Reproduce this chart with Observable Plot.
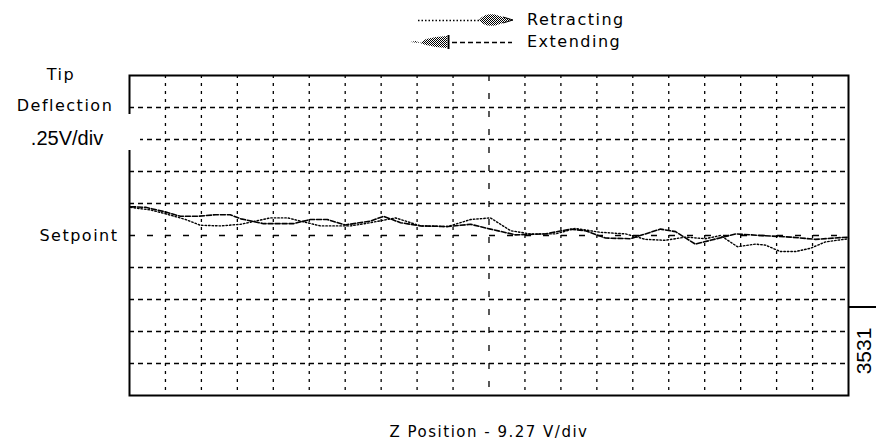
<!DOCTYPE html>
<html><head><meta charset="utf-8">
<script src="https://cdn.jsdelivr.net/npm/d3@7"></script>
<script src="https://cdn.jsdelivr.net/npm/@observablehq/plot@0.6"></script>
<style>
body{margin:0;background:#fff;}
#wrap{position:relative;width:876px;height:444px;overflow:hidden;background:#fff;}
.lbl{position:absolute;white-space:nowrap;line-height:1;color:#000;}
.pix{font-family:"DejaVu Sans",sans-serif;font-size:16px;letter-spacing:1.5px;}
.ari{font-family:"Liberation Sans",Arial,sans-serif;}
g[font-family="DejaVu Sans"] text{letter-spacing:1.5px;}
</style></head><body><div id="wrap"></div>
<script>
// Divisions (scope graticule): x 0..20, y -5..5, setpoint at 0
const xGridDivs = [1,2,3,4,5,6,7,8,9,11,12,13,14,15,16,17,18,19];
const xCenterDiv = [10];
const yGridDivs = [-4,-3,-2,-1,1,2,3,4];
const setpointDiv = [0];

// Retracting trace (dotted): Z position (div) vs tip deflection (div)
const retractX = [0.03,0.58,1.0,1.56,1.97,2.53,3.09,3.5,3.92,4.4,4.76,5.31,6.15,6.7,7.4,8.1,8.85,9.49,10.04,10.6,11.15,11.85,12.4,13.1,13.8,14.35,14.9,15.47,16.02,16.44,16.91,17.41,17.69,18.1,18.53,18.94,19.36,20];
const retractY = [0.88,0.8,0.68,0.5,0.32,0.3,0.35,0.45,0.55,0.55,0.45,0.3,0.3,0.4,0.55,0.3,0.28,0.5,0.55,0.15,0.05,0.05,0.22,0.1,0.05,-0.12,-0.15,-0.05,-0.1,0.0,-0.35,-0.27,-0.3,-0.5,-0.5,-0.4,-0.2,-0.1];

// Extending trace (dashed)
const extendX = [0.03,0.45,0.95,1.42,1.9,2.4,2.8,3.1,3.73,4.56,5.03,5.5,6.0,6.7,7.07,7.54,8.1,8.85,9.49,10.04,10.74,11.57,12.27,12.68,13.24,13.94,14.35,14.77,15.19,15.74,16.16,16.86,17.55,18.39,19.08,20];
const extendY = [0.9,0.88,0.75,0.6,0.6,0.65,0.65,0.52,0.37,0.37,0.5,0.5,0.33,0.45,0.6,0.4,0.3,0.28,0.35,0.2,0.02,0.05,0.2,0.15,-0.08,-0.1,0.05,0.2,0.12,-0.27,-0.15,0.05,0.0,-0.05,-0.12,-0.05];

const legendNames = ["Retracting", "Extending"];
const leftLabels = ["Tip", "Deflection", ".25V/div"];
const setpointLabel = "Setpoint";
const xAxisLabel = "Z Position - 9.27 V/div";
const figureId = "3531";

const retracting = retractX.map((x, i) => ({x, y: retractY[i]}));
const extending = extendX.map((x, i) => ({x, y: extendY[i]}));

const chart = Plot.plot({
  width: 876, height: 444,
  marginLeft: 129, marginRight: 28, marginTop: 75, marginBottom: 49,
  x: {domain: [0, 20], axis: null},
  y: {domain: [-5, 5], axis: null},
  style: {background: "#fff"},
  marks: [
    Plot.ruleX(xGridDivs, {stroke: "#000", strokeWidth: 1.3, strokeDasharray: "3,5"}),
    Plot.ruleX(xCenterDiv, {stroke: "#000", strokeWidth: 1.3, strokeDasharray: "6,12"}),
    Plot.ruleY(yGridDivs, {stroke: "#000", strokeWidth: 1.3, strokeDasharray: "5,4"}),
    Plot.ruleY(setpointDiv, {stroke: "#000", strokeWidth: 1.3, strokeDasharray: "6,12"}),
    Plot.line(extending, {x: "x", y: "y", stroke: "#000", strokeWidth: 1.6, strokeDasharray: "5,2"}),
    Plot.line(retracting, {x: "x", y: "y", stroke: "#000", strokeWidth: 1.4, strokeDasharray: "1.5,2"}),
    Plot.frame({stroke: "#000", strokeWidth: 2}),
    Plot.text([setpointLabel], {x: 0, y: 0, text: d => d, dx: -11, textAnchor: "end", fontFamily: "DejaVu Sans", fontSize: 16, fill: "#000"}),
    Plot.text([xAxisLabel], {x: 10, text: d => d, frameAnchor: "bottom", dy: 37, lineAnchor: "middle", fontFamily: "DejaVu Sans", fontSize: 15, fill: "#000"})
  ]
});

const wrap = document.getElementById("wrap");
wrap.appendChild(chart);

function addLabel(text, cls, css) {
  const d = document.createElement("div");
  d.className = "lbl " + cls;
  d.textContent = text;
  Object.assign(d.style, css);
  wrap.appendChild(d);
  return d;
}
// white mask behind the scale label (breaks frame edge)
const mask = document.createElement("div");
Object.assign(mask.style, {position: "absolute", left: "20px", top: "114px", width: "120px", height: "36px", background: "#fff"});
wrap.appendChild(mask);

addLabel(leftLabels[0], "pix", {left: "61px", top: "75px", transform: "translate(-50%,-50%)"});
addLabel(leftLabels[1], "pix", {left: "65px", top: "106px", transform: "translate(-50%,-50%)"});
addLabel(leftLabels[2], "ari", {left: "67px", top: "138px", fontSize: "20px", transform: "translate(-50%,-50%)"});

// figure id box at lower right
const box = document.createElement("div");
Object.assign(box.style, {position: "absolute", left: "848px", top: "306px", width: "28px", height: "89px", borderTop: "2px solid #000", boxSizing: "border-box"});
wrap.appendChild(box);
addLabel(figureId, "ari", {left: "863px", top: "351px", fontSize: "21px", transform: "translate(-50%,-50%) rotate(-90deg)"});

// legend
const ns = "http://www.w3.org/2000/svg";
const leg = document.createElementNS(ns, "svg");
leg.setAttribute("width", 125); leg.setAttribute("height", 46);
Object.assign(leg.style, {position: "absolute", left: "400px", top: "8px"});
leg.innerHTML = `
<defs><pattern id="dith" width="2" height="2" patternUnits="userSpaceOnUse">
<rect width="1" height="1" fill="#000"/><rect x="1" y="1" width="1" height="1" fill="#000"/></pattern></defs>
<line x1="18" y1="12.5" x2="80" y2="12.5" stroke="#000" stroke-width="1.3" stroke-dasharray="1.5,2"/>
<path d="M79,12 Q84,5 95,6.5 L103,9 L113,12 L103,15 L95,17.5 Q84,19 79,12 Z" fill="url(#dith)"/>
<path d="M103,9 L113,12 L103,15" fill="none" stroke="#000" stroke-width="1"/>
<path d="M10,34 L16,33 L20,35 L26,31 L36,29 L47,28 L47,40 L36,39 L26,37 L20,35 Z" fill="url(#dith)"/>
<line x1="48.5" y1="27" x2="48.5" y2="41" stroke="#000" stroke-width="2"/>
<line x1="52" y1="34.5" x2="112" y2="34.5" stroke="#000" stroke-width="1.5" stroke-dasharray="5,3"/>
`;
wrap.appendChild(leg);
addLabel(legendNames[0], "pix", {left: "527px", top: "20px", transform: "translate(0,-50%)"});
addLabel(legendNames[1], "pix", {left: "527px", top: "42px", transform: "translate(0,-50%)"});
</script>
</body></html>
